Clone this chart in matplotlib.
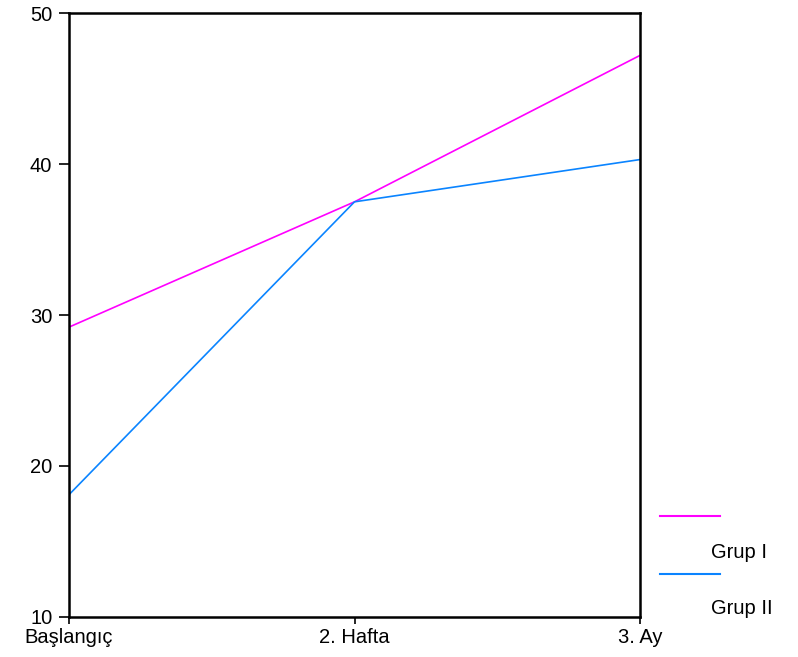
import matplotlib
matplotlib.use("Agg")
import matplotlib.pyplot as plt
from matplotlib.lines import Line2D

# Veriler
kategoriler = ["Başlangıç", "2. Hafta", "3. Ay"]
grup1 = [29.2, 37.5, 47.2]
grup2 = [18.1, 37.5, 40.3]
y_ticks = [10, 20, 30, 40, 50]

plt.rcParams['font.family'] = ['Liberation Sans', 'DejaVu Sans']

fig = plt.figure(figsize=(7.98, 6.57), dpi=100)
ax = fig.add_axes([0.0865, 0.061, 0.7155, 0.919])

x = list(range(len(kategoriler)))
ax.plot(x, grup1, color='#ff00ff', lw=1.2)
ax.plot(x, grup2, color='#0a84ff', lw=1.2)

ax.set_xlim(0, 2)
ax.set_ylim(10, 50)
ax.set_xticks(x)
ax.set_xticklabels(kategoriler)
ax.set_yticks(y_ticks)
for s in ax.spines.values():
    s.set_linewidth(1.8)
ax.tick_params(axis='both', direction='out', labelsize=14.5, width=1.2, length=5, pad=3)
ax.tick_params(axis='y', length=7, pad=5)

# Lejant
fig.add_artist(Line2D([660/798, 720/798], [1 - 516/657] * 2, color='#ff00ff', lw=1.5))
fig.add_artist(Line2D([660/798, 720/798], [1 - 574/657] * 2, color='#0a84ff', lw=1.5))
fig.text(711/798, 1 - 553/657, "Grup I", fontsize=14.5, va='center', ha='left')
fig.text(711/798, 1 - 609/657, "Grup II", fontsize=14.5, va='center', ha='left')

fig.savefig("out.png", dpi=100)
